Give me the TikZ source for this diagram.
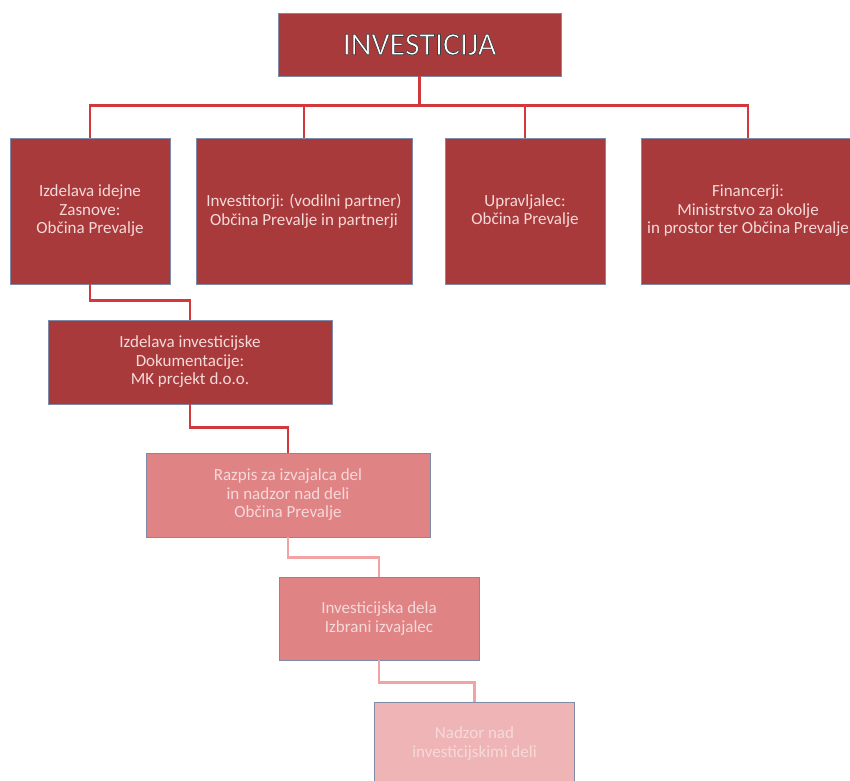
\documentclass[tikz,border=0pt]{standalone}
\usepackage{fontspec}
\setmainfont{Carlito}
\newcommand{\outlinetext}[1]{\special{pdf:literal direct 2 Tr 0.7 w 0.25 0.25 0.25 RG}#1\special{pdf:literal direct 0 Tr}}

\definecolor{boxdark}{HTML}{A83A3C}
\definecolor{boxmid}{HTML}{E08385}
\definecolor{boxlight}{HTML}{EFB5B6}
\definecolor{linedark}{HTML}{D2393D}
\definecolor{linelight}{HTML}{F2A3A4}
\definecolor{boxborder}{HTML}{7F8AA8}
\definecolor{boxtext}{HTML}{F6D9D9}

\begin{document}
\begin{tikzpicture}[x=1pt,y=-1pt,
    box/.style={rectangle,draw=boxborder,line width=0.8pt,inner sep=0pt,
        align=center,text=boxtext,font=\fontsize{17}{18.5}\selectfont},
    darkbox/.style={box,fill=boxdark},
    midbox/.style={box,fill=boxmid},
    lightbox/.style={box,fill=boxlight},
    link/.style={draw=linedark,line width=2.4pt},
    lightlink/.style={draw=linelight,line width=2.4pt}]
\useasboundingbox (0,0) rectangle (850,780);
\clip (0,0) rectangle (850,780);

% boxes
\node[darkbox,minimum width=283,minimum height=63,text=white,
      font=\fontsize{32}{36}\selectfont] (top) at (419.5,44.5)
      {\outlinetext{INVESTICIJA}};
\node[darkbox,minimum width=160,minimum height=146] (idejna) at (90,211)
      {Izdelava idejne\\Zasnove:\\Občina Prevalje};
\node[darkbox,minimum width=216,minimum height=146] (investitor) at (304,211)
      {Investitorji: (vodilni partner)\\Občina Prevalje in partnerji};
\node[darkbox,minimum width=160,minimum height=146] (upravljalec) at (525,211)
      {Upravljalec:\\Občina Prevalje};
\node[darkbox,minimum width=214,minimum height=146] (financer) at (748,211)
      {Financerji:\\Ministrstvo za okolje\\in prostor ter Občina Prevalje};
\node[darkbox,minimum width=284,minimum height=84] (dokum) at (190,362)
      {Izdelava investicijske\\Dokumentacije:\\MK prcjekt d.o.o.};
\node[midbox,minimum width=284,minimum height=84] (razpis) at (288,495)
      {Razpis za izvajalca del\\in nadzor nad deli\\Občina Prevalje};
\node[midbox,minimum width=200,minimum height=83] (dela) at (379,618.5)
      {Investicijska dela\\Izbrani izvajalec};
\node[lightbox,minimum width=200,minimum height=83] (nadzor) at (474.5,743.5)
      {Nadzor nad\\investicijskimi deli};

% connectors
\draw[link] (top.south) -- ++(0,29) -| (idejna.north);
\draw[link] (top.south) -- ++(0,29) -| (investitor.north);
\draw[link] (top.south) -- ++(0,29) -| (upravljalec.north);
\draw[link] (top.south) -- ++(0,29) -| (financer.north);
\draw[link] (idejna.south) -- ++(0,16) -| (dokum.north);
\draw[link] (dokum.south) -- ++(0,23) -| (razpis.north);
\draw[lightlink] (razpis.south) -- ++(0,20) -| (dela.north);
\draw[lightlink] (dela.south) -- ++(0,22) -| (nadzor.north);
\end{tikzpicture}
\end{document}
